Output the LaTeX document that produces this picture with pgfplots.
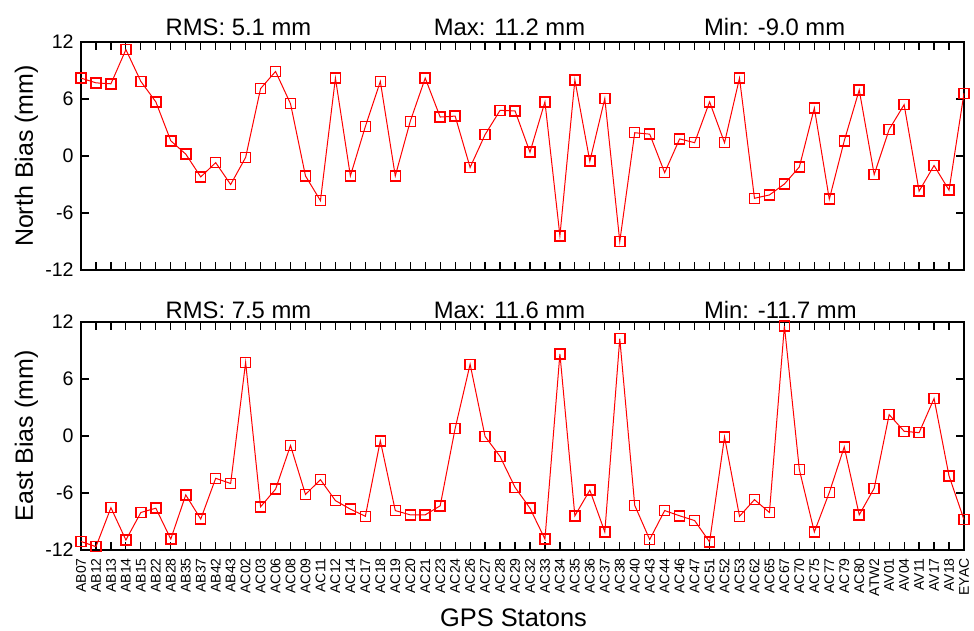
\documentclass[border=0pt]{standalone}
\usepackage{fontspec}
\setmainfont{Liberation Sans}
\usepackage{pgfplots}
\usepackage{pgfplotstable}
\pgfplotsset{compat=1.18}

\pgfplotstableread{
i N E
0 8.2 -11.1
1 7.7 -11.65
2 7.6 -7.55
3 11.2 -10.95
4 7.85 -8.05
5 5.7 -7.6
6 1.6 -10.85
7 0.2 -6.2
8 -2.2 -8.75
9 -0.7 -4.45
10 -3.0 -5.0
11 -0.15 7.75
12 7.1 -7.45
13 8.9 -5.6
14 5.5 -1.0
15 -2.1 -6.15
16 -4.7 -4.6
17 8.2 -6.8
18 -2.1 -7.7
19 3.1 -8.45
20 7.85 -0.5
21 -2.1 -7.85
22 3.65 -8.3
23 8.2 -8.3
24 4.1 -7.35
25 4.2 0.8
26 -1.2 7.55
27 2.25 -0.05
28 4.8 -2.15
29 4.75 -5.4
30 0.4 -7.6
31 5.7 -10.85
32 -8.4 8.65
33 8.0 -8.4
34 -0.55 -5.7
35 6.05 -10.1
36 -9.0 10.25
37 2.45 -7.3
38 2.3 -10.9
39 -1.75 -7.85
40 1.8 -8.4
41 1.4 -8.9
42 5.7 -11.15
43 1.4 -0.1
44 8.2 -8.45
45 -4.45 -6.7
46 -4.1 -8.05
47 -2.95 11.6
48 -1.15 -3.55
49 5.05 -10.1
50 -4.55 -5.95
51 1.6 -1.15
52 6.95 -8.3
53 -1.95 -5.5
54 2.8 2.25
55 5.4 0.5
56 -3.7 0.35
57 -1.0 3.95
58 -3.6 -4.2
59 6.6 -8.8
}\biasdata

\pgfplotsset{
  bias/.style={
    width=441.5pt, height=114pt, scale only axis,
    xmin=0, xmax=59, ymin=-12, ymax=12,
    xtick={0,...,59},
    ytick={-12,-6,0,6,12}, yticklabels={-12,-6,0,6,12},
    tick align=inside, major tick length=4pt,
    xtick pos=both, ytick pos=both,
    xticklabel pos=lower, yticklabel pos=left,
    axis line style={black, line width=0.75pt},
    tick style={black, line width=0.6pt},
    clip=false,
    yticklabel style={font=\fontsize{9.8}{10}\selectfont, inner sep=0pt},
    yticklabel shift=3.5pt,
    ylabel style={at={(axis description cs:-0.0544,0.5)}, anchor=base,
      font=\fontsize{12.5}{14}\selectfont, inner sep=0pt},
  },
  biasplot/.style={red, line width=0.5pt, mark=square, mark size=2.5pt,
    mark options={line width=0.75pt, fill=none, solid}},
}
\tikzset{ttl/.style={anchor=base west, inner sep=0pt, font=\fontsize{11.9}{14}\selectfont}}

\begin{document}
\begin{tikzpicture}
\begin{axis}[bias, name=top, at={(0,0)}, anchor=north west,
  xticklabel=\empty,
  ylabel={North Bias (mm)}]
\addplot[biasplot] table[x=i, y=N] {\biasdata};
\node[ttl] at ([yshift=3pt]axis description cs:0.0955,1) {RMS: 5.1 mm};
\node[ttl] at ([yshift=3pt]axis description cs:0.3992,1) {Max: 11.2 mm};
\node[ttl] at ([yshift=3pt]axis description cs:0.7052,1) {Min: -9.0 mm};
\end{axis}
\begin{axis}[bias, name=bot, at={(0,-140pt)}, anchor=north west,
  xticklabels={AB07,AB12,AB13,AB14,AB15,AB22,AB28,AB35,AB37,AB42,AB43,AC02,AC03,AC06,AC08,AC09,AC11,AC12,AC14,AC17,AC18,AC19,AC20,AC21,AC23,AC24,AC26,AC27,AC28,AC29,AC32,AC33,AC34,AC35,AC36,AC37,AC38,AC40,AC43,AC44,AC46,AC47,AC51,AC52,AC53,AC62,AC65,AC67,AC70,AC75,AC77,AC79,AC80,ATW2,AV01,AV04,AV11,AV17,AV18,EYAC},
  xticklabel style={rotate=90, anchor=east, font=\fontsize{7}{8}\selectfont, inner sep=0pt},
  xticklabel shift=4pt,
  ylabel={East Bias (mm)},
  xlabel={GPS Statons},
  xlabel style={at={(axis description cs:0.4898,-0.336)}, anchor=base,
    font=\fontsize{12.7}{14}\selectfont, inner sep=0pt}]
\addplot[biasplot] table[x=i, y=E] {\biasdata};
\node[ttl] at ([yshift=1.7pt]axis description cs:0.0955,1) {RMS: 7.5 mm};
\node[ttl] at ([yshift=1.7pt]axis description cs:0.3992,1) {Max: 11.6 mm};
\node[ttl] at ([yshift=1.7pt]axis description cs:0.7052,1) {Min: -11.7 mm};
\end{axis}
\pgfresetboundingbox
\path (-40.5pt,21pt) rectangle ++(487pt,-315.5pt);
\end{tikzpicture}
\end{document}
